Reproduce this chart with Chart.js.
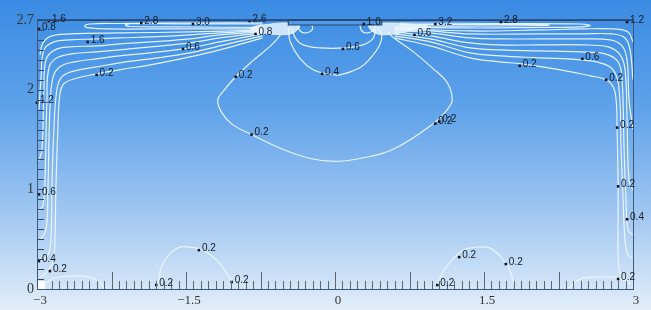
<!DOCTYPE html>
<html>
<head>
<meta charset="utf-8">
<script src="https://cdn.jsdelivr.net/npm/chart.js@4.4.1/dist/chart.umd.min.js"></script>
<style>
  html, body { margin: 0; padding: 0; background: #fff; }
  #wrap { width: 651px; height: 310px; position: relative; }
</style>
</head>
<body>
<div id="wrap"><canvas id="contour-chart"></canvas></div>
<script>
// axis tick labels
const xTicks = [-3, -1.5, 0, 1.5, 3];
const yTicks = [0, 1, 2, 2.7];

// slot (inlet) outline in the ceiling
const slotOutline = [[-0.47, 2.70], [0.47, 2.70], [0.47, 2.65], [-0.47, 2.65], [-0.47, 2.70]];

// dense jet cores next to the slot
const jetCoreLeft = [[-0.80, 2.57], [-0.60, 2.555], [-0.45, 2.56], [-0.38, 2.60], [-0.36, 2.65], [-0.45, 2.67], [-0.65, 2.66], [-0.85, 2.62], [-0.80, 2.57]];
const jetCoreRight = [[0.33, 2.66], [0.36, 2.60], [0.45, 2.555], [0.60, 2.56], [0.75, 2.59], [0.95, 2.63], [0.75, 2.66], [0.50, 2.67], [0.33, 2.66]];

// central contours under the slot
const loop02 = [[-0.55, 2.55], [-0.58, 2.51], [-0.66, 2.43], [-0.84, 2.28], [-1.0, 2.13], [-1.12, 1.99], [-1.18, 1.90], [-1.14, 1.77], [-1.03, 1.65], [-0.84, 1.55], [-0.52, 1.40], [-0.25, 1.31], [0, 1.28], [0.25, 1.31], [0.58, 1.40], [0.99, 1.66], [1.13, 1.80], [1.18, 1.90], [1.13, 2.07], [0.99, 2.21], [0.79, 2.38], [0.58, 2.53], [0.53, 2.58]];
const loop04 = [[-0.47, 2.62], [-0.45, 2.48], [-0.35, 2.31], [-0.22, 2.20], [-0.08, 2.16], [0.05, 2.15], [0.25, 2.22], [0.35, 2.31], [0.45, 2.45], [0.47, 2.55], [0.43, 2.63]];
const loop06 = [[-0.43, 2.62], [-0.40, 2.52], [-0.32, 2.45], [-0.15, 2.42], [0.1, 2.42], [0.28, 2.45], [0.38, 2.51], [0.41, 2.60]];
const curlLeft = [[-0.38, 2.66], [-0.35, 2.59], [-0.29, 2.57], [-0.23, 2.60], [-0.23, 2.65]];
const curlRight = [[0.25, 2.65], [0.27, 2.59], [0.33, 2.57], [0.39, 2.60], [0.41, 2.66]];

// left wall jet
const leftA = [[-0.73, 2.52], [-1.16, 2.40], [-1.46, 2.33], [-1.86, 2.25], [-2.17, 2.20], [-2.40, 2.16], [-2.62, 2.11], [-2.73, 2.06], [-2.77, 1.95], [-2.79, 1.60], [-2.81, 1.00], [-2.82, 0.49], [-2.84, 0.27], [-2.90, 0.17], [-2.97, 0.12]];
const leftB = [[-0.73, 2.54], [-1.16, 2.44], [-1.46, 2.37], [-1.86, 2.31], [-2.17, 2.27], [-2.40, 2.23], [-2.62, 2.19], [-2.75, 2.13], [-2.80, 2.00], [-2.83, 1.60], [-2.85, 1.00], [-2.86, 0.49], [-2.89, 0.34], [-2.97, 0.27]];
const leftC = [[-0.73, 2.56], [-1.16, 2.48], [-1.46, 2.42], [-1.86, 2.37], [-2.17, 2.34], [-2.40, 2.31], [-2.62, 2.28], [-2.77, 2.23], [-2.84, 2.12], [-2.87, 1.80], [-2.89, 1.00], [-2.91, 0.59], [-2.97, 0.49]];
const leftD = [[-0.73, 2.57], [-1.16, 2.52], [-1.46, 2.47], [-1.86, 2.43], [-2.17, 2.40], [-2.40, 2.38], [-2.65, 2.36], [-2.80, 2.32], [-2.88, 2.22], [-2.90, 1.90], [-2.92, 1.09], [-2.94, 0.84], [-2.98, 0.79]];
const leftE = [[-0.73, 2.58], [-1.16, 2.55], [-1.46, 2.51], [-1.86, 2.48], [-2.17, 2.46], [-2.40, 2.44], [-2.67, 2.43], [-2.82, 2.40], [-2.91, 2.30], [-2.93, 2.00], [-2.95, 1.40], [-2.98, 1.29]];
const leftF = [[-0.73, 2.59], [-1.16, 2.57], [-1.46, 2.55], [-1.86, 2.53], [-2.17, 2.52], [-2.40, 2.51], [-2.67, 2.50], [-2.83, 2.48], [-2.93, 2.40], [-2.96, 2.10], [-2.98, 1.80]];
const leftG = [[-0.73, 2.60], [-1.46, 2.58], [-2.17, 2.57], [-2.67, 2.56], [-2.85, 2.54], [-2.94, 2.47], [-2.97, 2.35]];
const leftTongue1 = [[-0.73, 2.61], [-1.36, 2.61], [-1.86, 2.61], [-2.27, 2.61], [-2.47, 2.62], [-2.52, 2.64], [-2.47, 2.66], [-2.17, 2.665], [-1.36, 2.67], [-0.73, 2.67]];
const leftTongue2 = [[-0.73, 2.625], [-1.56, 2.63], [-2.06, 2.635], [-2.11, 2.65], [-2.06, 2.663], [-1.56, 2.662], [-0.73, 2.66]];

// right wall jet
const rightA = [[0.60, 2.52], [0.96, 2.44], [1.36, 2.32], [1.66, 2.28], [1.88, 2.26], [2.27, 2.20], [2.57, 2.14], [2.73, 2.10], [2.80, 2.03], [2.83, 1.90], [2.84, 1.62], [2.85, 1.03], [2.85, 0.39], [2.86, 0.19], [2.90, 0.11], [2.97, 0.09]];
const rightB = [[0.60, 2.54], [0.96, 2.48], [1.36, 2.37], [1.66, 2.34], [2.06, 2.32], [2.47, 2.30], [2.67, 2.27], [2.80, 2.20], [2.86, 2.00], [2.88, 1.40], [2.90, 0.89], [2.92, 0.49], [2.95, 0.34], [3.00, 0.31]];
const rightC = [[0.60, 2.56], [0.96, 2.51], [1.36, 2.42], [1.66, 2.40], [2.06, 2.39], [2.47, 2.38], [2.72, 2.36], [2.85, 2.28], [2.89, 2.10], [2.91, 1.40], [2.93, 0.89], [2.95, 0.59], [3.00, 0.54]];
const rightD = [[0.60, 2.58], [0.96, 2.54], [1.36, 2.47], [1.66, 2.45], [2.06, 2.45], [2.47, 2.45], [2.75, 2.43], [2.87, 2.35], [2.92, 2.20], [2.94, 1.70], [2.96, 1.09], [3.00, 0.99]];
const rightE = [[0.60, 2.60], [0.96, 2.57], [1.36, 2.52], [1.66, 2.51], [2.06, 2.51], [2.47, 2.51], [2.77, 2.50], [2.89, 2.44], [2.94, 2.30], [2.96, 1.90], [3.00, 1.60]];
const rightF = [[0.60, 2.61], [0.96, 2.59], [1.36, 2.56], [2.06, 2.56], [2.47, 2.56], [2.79, 2.56], [2.92, 2.52], [2.97, 2.40], [3.00, 2.10]];
const rightG = [[0.60, 2.62], [1.36, 2.59], [2.06, 2.60], [2.47, 2.61], [2.81, 2.61], [2.95, 2.58], [3.00, 2.48]];
const rightTongue1 = [[0.60, 2.63], [1.36, 2.62], [2.06, 2.625], [2.47, 2.63], [2.57, 2.645], [2.47, 2.66], [1.66, 2.665], [0.65, 2.67]];
const rightTongue2 = [[0.65, 2.64], [1.66, 2.64], [2.11, 2.645], [2.16, 2.65], [2.11, 2.655], [1.66, 2.655], [0.65, 2.655]];

// small recirculation bumps on the floor
const floorLeft = [[-2.92, 0.06], [-2.82, 0.11], [-2.67, 0.13], [-2.47, 0.12], [-2.37, 0.07], [-2.32, 0.0]];
const floorMidLeft = [[-1.79, 0.01], [-1.73, 0.26], [-1.59, 0.41], [-1.46, 0.42], [-1.33, 0.39], [-1.19, 0.29], [-1.09, 0.16], [-1.03, 0.06]];
const floorMidRight = [[1.03, 0.03], [1.08, 0.16], [1.16, 0.27], [1.29, 0.39], [1.43, 0.42], [1.56, 0.41], [1.68, 0.31], [1.76, 0.19], [1.79, 0.09], [1.81, 0.0]];
const floorRight = [[2.34, 0.0], [2.47, 0.10], [2.64, 0.12], [2.80, 0.12], [2.89, 0.10], [2.97, 0.05]];

// contour value labels
const labelX = [-2.88, -2.98, -2.49, -1.95, -1.43, -1.53, -2.40, -3.00, -0.86, -0.80, -1.00, 0.08, -0.13, 0.29, 0.80, 1.01, 1.67, 2.94, 2.49, 1.86, 2.73, -0.84, 1.01, 1.05, -2.98, -2.98, -2.87, -1.80, -1.37, -1.04, 1.03, 1.25, 1.72, 2.85, 2.84, 2.85, 2.94];
const labelY = [2.69, 2.61, 2.48, 2.67, 2.66, 2.41, 2.15, 1.87, 2.69, 2.56, 2.13, 2.41, 2.16, 2.66, 2.55, 2.66, 2.68, 2.68, 2.31, 2.24, 2.10, 1.55, 1.66, 1.68, 0.95, 0.28, 0.18, 0.04, 0.39, 0.07, 0.04, 0.32, 0.25, 0.10, 1.62, 1.03, 0.70];
const labelText = ['1.6', '0.8', '1.6', '2.8', '3.0', '0.6', '0.2', '1.2', '2.6', '0.8', '0.2', '0.6', '0.4', '1.0', '0.6', '3.2', '2.8', '1.2', '0.6', '0.2', '0.2', '0.2', '0.2', '0.2', '0.6', '0.4', '0.2', '0.2', '0.2', '0.2', '0.2', '0.2', '0.2', '0.2', '0.2', '0.2', '0.4'];

const contours = [
    loop02, loop04, loop06, curlLeft, curlRight,
    leftA, leftB, leftC, leftD, leftE, leftF, leftG, leftTongue1, leftTongue2,
    rightA, rightB, rightC, rightD, rightE, rightF, rightG, rightTongue1, rightTongue2,
    floorLeft, floorMidLeft, floorMidRight, floorRight
];

const toPts = arr => arr.map(([x, y]) => ({ x, y }));

const LINE = 'rgba(236, 248, 255, 0.95)';
const FRAME = '#3d5878';

const datasets = [];

// filled shapes first (drawn underneath the lines)
[jetCoreLeft, jetCoreRight].forEach(shape => {
    datasets.push({
        data: toPts(shape),
        showLine: true,
        fill: 'shape',
        backgroundColor: 'rgba(240, 249, 255, 0.8)',
        borderColor: 'rgba(240, 249, 255, 0.8)',
        borderWidth: 1,
        tension: 0.4,
        pointRadius: 0,
        order: 5
    });
});

datasets.push({
    data: toPts(slotOutline),
    showLine: true,
    fill: 'shape',
    backgroundColor: '#4f9be8',
    borderColor: '#24456f',
    borderWidth: 1.2,
    tension: 0,
    pointRadius: 0,
    clip: false,
    order: 1
});

contours.forEach(c => {
    datasets.push({
        data: toPts(c),
        showLine: true,
        fill: false,
        borderColor: LINE,
        borderWidth: 1.2,
        tension: 0.4,
        pointRadius: 0,
        order: 3
    });
});

// label markers
datasets.push({
    data: labelX.map((x, i) => ({ x, y: labelY[i] })),
    showLine: false,
    pointStyle: 'rect',
    pointRadius: 1.8,
    backgroundColor: '#111',
    borderColor: '#111',
    borderWidth: 0,
    clip: false,
    order: 0,
    isLabels: true
});

/**
 * Background gradient for the whole canvas
 */
const backdrop = {
    id: 'backdrop',
    beforeDraw(chart) {
        const { ctx, width, height } = chart;
        const g = ctx.createLinearGradient(0, 0, 0, height);
        g.addColorStop(0, '#3a8be3');
        g.addColorStop(0.35, '#5fa2ea');
        g.addColorStop(0.7, '#a3c8f1');
        g.addColorStop(1, '#e2eefa');
        ctx.save();
        ctx.fillStyle = g;
        ctx.fillRect(0, 0, width, height);
        ctx.restore();
    }
};

/**
 * Frame and inner ruler ticks along the floor and left wall
 */
const ruler = {
    id: 'ruler',
    afterDatasetsDraw(chart) {
        const { ctx, chartArea: a, scales: { x, y } } = chart;
        ctx.save();
        // floor ruler: every 0.075, longer every 0.75
        ctx.strokeStyle = '#5c6670';
        ctx.lineWidth = 1;
        for (let i = 0; i <= 80; i++) {
            const px = Math.round(x.getPixelForValue(-3 + i * 0.075)) + 0.5;
            const len = i % 10 === 0 ? 17 : 8;
            ctx.beginPath();
            ctx.moveTo(px, a.bottom);
            ctx.lineTo(px, a.bottom - len);
            ctx.stroke();
        }
        // left wall ruler: every 0.1
        ctx.strokeStyle = '#2f4a6a';
        for (let i = 0; i <= 27; i++) {
            const py = Math.round(y.getPixelForValue(i * 0.1)) + 0.5;
            ctx.beginPath();
            ctx.moveTo(a.left, py);
            ctx.lineTo(a.left + 7, py);
            ctx.stroke();
        }
        // white box at the origin
        ctx.fillStyle = '#fff';
        ctx.fillRect(a.left + 1, a.bottom - 8, 7, 8);
        // frame
        ctx.strokeStyle = FRAME;
        ctx.lineWidth = 1;
        ctx.strokeRect(a.left + 0.5, a.top + 0.5, a.right - a.left, a.bottom - a.top);
        ctx.strokeStyle = '#24456f';
        ctx.lineWidth = 1.5;
        ctx.beginPath();
        ctx.moveTo(a.left, a.top);
        ctx.lineTo(a.right, a.top);
        ctx.stroke();
        ctx.restore();
    }
};

/**
 * Contour value text beside each marker
 */
const valueText = {
    id: 'valueText',
    afterDraw(chart) {
        const ctx = chart.ctx;
        const idx = chart.data.datasets.findIndex(d => d.isLabels);
        const meta = chart.getDatasetMeta(idx);
        ctx.save();
        ctx.font = '10px "Liberation Sans", Arial, sans-serif';
        ctx.fillStyle = '#141a24';
        ctx.textAlign = 'left';
        ctx.textBaseline = 'middle';
        meta.data.forEach((pt, i) => {
            ctx.fillText(labelText[i], pt.x + 3, pt.y - 2);
        });
        ctx.restore();
    }
};

const tickFont = { family: "'Liberation Serif', 'DejaVu Serif', serif", size: 13 };

new Chart(document.getElementById('contour-chart'), {
    type: 'scatter',
    data: { datasets },
    options: {
        responsive: true,
        maintainAspectRatio: false,
        animation: false,
        layout: { padding: { top: 20, right: 18, left: 0, bottom: 0 } },
        plugins: {
            legend: { display: false },
            tooltip: { enabled: false }
        },
        scales: {
            x: {
                type: 'linear',
                min: -3,
                max: 3,
                afterBuildTicks: s => { s.ticks = xTicks.map(v => ({ value: v })); },
                afterFit: s => { s.height = 21; },
                grid: { display: false, drawTicks: false },
                border: { display: false },
                ticks: {
                    autoSkip: false,
                    maxRotation: 0,
                    padding: 4,
                    labelOffset: 3,
                    color: '#333',
                    font: tickFont,
                    callback: v => String(v).replace('-', '\u2212')
                }
            },
            y: {
                type: 'linear',
                min: 0,
                max: 2.7,
                afterBuildTicks: s => { s.ticks = yTicks.map(v => ({ value: v })); },
                afterFit: s => { s.width = 37; },
                grid: { display: false, drawTicks: false },
                border: { display: false },
                ticks: {
                    padding: 3,
                    color: '#333',
                    font: { ...tickFont, size: 14 },
                    callback: v => String(v)
                }
            }
        }
    },
    plugins: [backdrop, ruler, valueText]
});
</script>
</body>
</html>
